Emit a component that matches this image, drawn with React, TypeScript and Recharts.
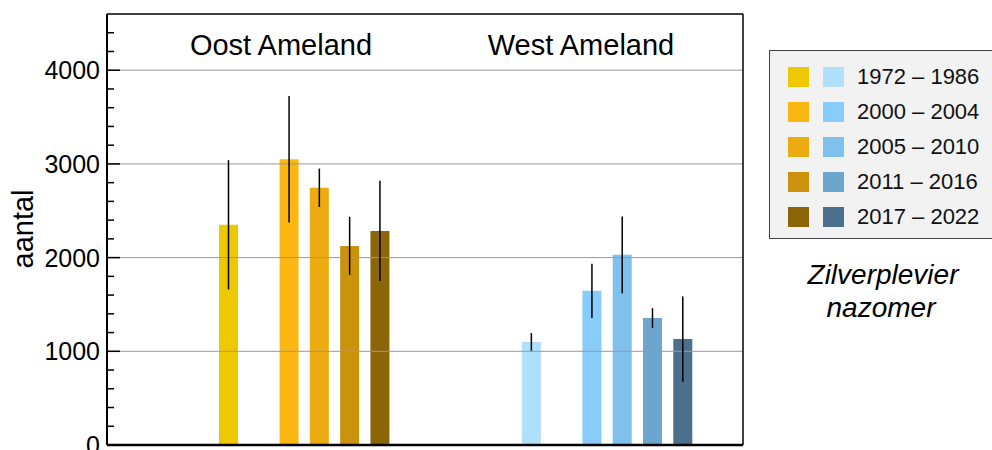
import React from "react";
import {
  ComposedChart,
  Bar,
  Cell,
  ErrorBar,
  XAxis,
  YAxis,
  ReferenceLine,
} from "recharts";

const periods = ["1972 – 1986", "2000 – 2004", "2005 – 2010", "2011 – 2016", "2017 – 2022"];
const oostValues = [2350, 3050, 2745, 2125, 2285];
const oostErrors = [690, 675, 205, 310, 535];
const westValues = [1100, 1645, 2030, 1355, 1130];
const westErrors = [95, 290, 410, 105, 455];
const oostColors = ["#EEC900", "#FDB713", "#ECAC11", "#CB920D", "#8C6509"];
const westColors = ["#B1E0FD", "#88CCFC", "#80C0ED", "#6CA6CE", "#4B708D"];
const oostSlots = [4, 6, 7, 8, 9];
const westSlots = [14, 16, 17, 18, 19];
const yTicks = Array.from({ length: 24 }, (_, i) => i * 200);
const gridValues = [1000, 2000, 3000, 4000];

const FONT = "'Liberation Sans', Arial, Helvetica, sans-serif";

const data = [
  ...oostValues.map((v, i) => ({ x: oostSlots[i], value: v, err: oostErrors[i], color: oostColors[i] })),
  ...westValues.map((v, i) => ({ x: westSlots[i], value: v, err: westErrors[i], color: westColors[i] })),
];

const YTick = (props: any) => {
  const { x, y, payload } = props;
  const major = payload.value % 1000 === 0;
  if (payload.value >= 4600) return null;
  return (
    <g>
      <line x1={x + 7} x2={x + 7 + (major ? 13 : 7)} y1={y} y2={y} stroke="#000" strokeWidth={1.5} />
      {major && (
        <text x={x} y={y} dy={9} textAnchor="end" fontSize={25} fontFamily={FONT} fill="#000">
          {payload.value}
        </text>
      )}
    </g>
  );
};

const LegendBox = () => (
  <div
    style={{
      position: "absolute",
      left: 769,
      top: 50,
      background: "#F2F2F2",
      border: "1.5px solid #444",
      width: 240,
      height: 189,
      boxSizing: "border-box",
      paddingTop: 8,
      fontFamily: FONT,
    }}
  >
    {periods.map((p, i) => (
      <div key={p} style={{ display: "flex", alignItems: "center", height: 35 }}>
        <span style={{ width: 21, height: 20, background: oostColors[i], marginLeft: 18 }} />
        <span style={{ width: 21, height: 20, background: westColors[i], marginLeft: 14 }} />
        <span style={{ fontSize: 22, marginLeft: 13, color: "#111" }}>{p}</span>
      </div>
    ))}
  </div>
);

export default function App() {
  return (
    <div style={{ position: "fixed", left: 0, top: 0, width: 992, height: 450, overflow: "hidden", background: "#fff" }}>
      <ComposedChart
        width={992}
        height={450}
        data={data}
        margin={{ top: 14, right: 249, bottom: 5, left: 0 }}
      >
        <XAxis type="number" dataKey="x" domain={[0, 21]} hide />
        <YAxis
          width={107}
          domain={[0, 4600]}
          ticks={yTicks}
          interval={0}
          tickSize={0}
          tickMargin={7}
          tickLine={false}
          axisLine={{ stroke: "#000", strokeWidth: 2 }}
          tick={<YTick />}
        />
        {gridValues.map((v) => (
          <ReferenceLine key={v} y={v} stroke="#999" strokeWidth={1} />
        ))}
        <ReferenceLine y={4600} stroke="#000" strokeWidth={1.5} />
        <ReferenceLine y={0} stroke="#000" strokeWidth={2.5} />
        <ReferenceLine x={21} stroke="#000" strokeWidth={1.5} />
        <Bar dataKey="value" barSize={19} isAnimationActive={false}>
          {data.map((d) => (
            <Cell key={d.x} fill={d.color} />
          ))}
          <ErrorBar dataKey="err" width={0} stroke="#000" strokeWidth={1.5} direction="y" />
        </Bar>
      </ComposedChart>
      <LegendBox />
      <svg
        width={992}
        height={450}
        style={{ position: "absolute", left: 0, top: 0, pointerEvents: "none" }}
        fontFamily={FONT}
      >
        <text x={281} y={55} textAnchor="middle" fontSize={29} fill="#000">Oost Ameland</text>
        <text x={581} y={55} textAnchor="middle" fontSize={29} fill="#000">West Ameland</text>
        <text x={33} y={229} textAnchor="middle" fontSize={29} fill="#000" transform="rotate(-90 33 229)">aantal</text>
        <text x={883} y={284} textAnchor="middle" fontSize={28} fontStyle="italic" fill="#000">Zilverplevier</text>
        <text x={881} y={317} textAnchor="middle" fontSize={28} fontStyle="italic" fill="#000">nazomer</text>
      </svg>
    </div>
  );
}
